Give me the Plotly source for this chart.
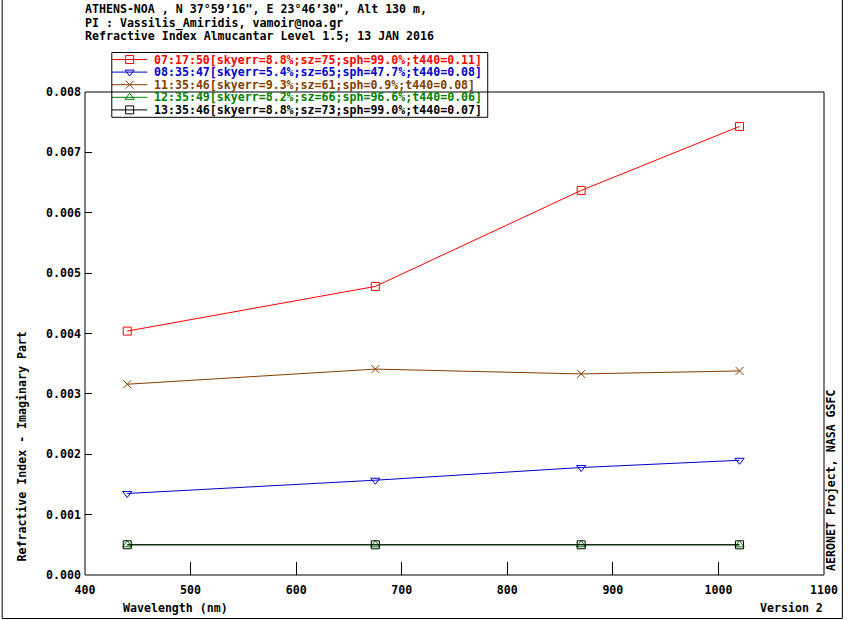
import plotly.graph_objects as go

# AERONET Athens-NOA, imaginary refractive index, 13 JAN 2016
wavelengths = [440, 675, 870, 1020]

series_names = [
    "07:17:50[skyerr=8.8%;sz=75;sph=99.0%;t440=0.11]",
    "08:35:47[skyerr=5.4%;sz=65;sph=47.7%;t440=0.08]",
    "11:35:46[skyerr=9.3%;sz=61;sph=0.9%;t440=0.08]",
    "12:35:49[skyerr=8.2%;sz=66;sph=96.6%;t440=0.06]",
    "13:35:46[skyerr=8.8%;sz=73;sph=99.0%;t440=0.07]",
]
ri_0717 = [0.00404, 0.00478, 0.00637, 0.00743]
ri_0835 = [0.00135, 0.00157, 0.00178, 0.00190]
ri_1135 = [0.00316, 0.00341, 0.00333, 0.00338]
ri_1235 = [0.0005, 0.0005, 0.0005, 0.0005]
ri_1335 = [0.0005, 0.0005, 0.0005, 0.0005]
all_values = [ri_0717, ri_0835, ri_1135, ri_1235, ri_1335]

colors = ["#ff0000", "#0000cc", "#804000", "#008000", "#000000"]
symbols = ["square-open", "triangle-down-open", "x-thin-open", "triangle-up-open", "square-open"]

y_ticks = [0.000, 0.001, 0.002, 0.003, 0.004, 0.005, 0.006, 0.007, 0.008]

W, H = 850, 620
ML, MR, MT, MB = 85, 20, 50, 45
PW = W - ML - MR
PH = H - MT - MB


def px(p):
    return (p - ML) / PW


def py(p):
    return (H - MB - p) / PH


FONT = dict(family="DejaVu Sans Mono", size=11.6, color="black", weight="bold")

fig = go.Figure()

for i, (name, vals) in enumerate(zip(series_names, all_values)):
    # real data
    fig.add_trace(go.Scatter(
        x=wavelengths, y=vals, mode="lines+markers", name=name,
        line=dict(color=colors[i], width=1),
        marker=dict(symbol=symbols[i], size=8, color=colors[i], line=dict(width=1, color=colors[i])),
        showlegend=False, xaxis="x", yaxis="y",
    ))
    # legend sample (row i)
    fig.add_trace(go.Scatter(
        x=[0, 0.5, 1], y=[i, i, i], mode="lines", line=dict(color=colors[i], width=1),
        showlegend=False, xaxis="x2", yaxis="y2", hoverinfo="skip",
    ))
    fig.add_trace(go.Scatter(
        x=[0.5], y=[i], mode="markers",
        marker=dict(symbol=symbols[i], size=8, color=colors[i], line=dict(width=1, color=colors[i])),
        showlegend=False, xaxis="x2", yaxis="y2", hoverinfo="skip", cliponaxis=False,
    ))

annotations = [
    dict(x=px(153), y=i, xref="paper", yref="y2", text=name, showarrow=False,
         xanchor="left", yanchor="middle", font=dict(FONT, color=colors[i]))
    for i, name in enumerate(series_names)
]
header = [
    "ATHENS-NOA , N 37°59’16\", E 23°46’30\", Alt 130 m,",
    "PI : Vassilis_Amiridis, vamoir@noa.gr",
    "Refractive Index Almucantar Level 1.5; 13 JAN 2016",
]
for line, ypix in zip(header, [9, 23, 36]):
    annotations.append(dict(x=px(83), y=py(ypix), xref="paper", yref="paper", text=line,
                            showarrow=False, xanchor="left", yanchor="middle", font=FONT))
annotations += [
    dict(x=px(176), y=py(607.5), xref="paper", yref="paper", text="Wavelength (nm)",
         showarrow=False, xanchor="center", yanchor="middle", font=FONT),
    dict(x=px(831), y=py(608), xref="paper", yref="paper", text="Version 2",
         showarrow=False, xanchor="right", yanchor="middle", font=FONT),
    dict(x=px(21), y=py(447), xref="paper", yref="paper", text="Refractive Index - Imaginary Part",
         showarrow=False, textangle=-90, xanchor="center", yanchor="middle", font=FONT),
    dict(x=px(837), y=py(480), xref="paper", yref="paper", text="AERONET Project, NASA GSFC",
         showarrow=False, textangle=-90, xanchor="center", yanchor="middle", font=FONT),
]

shapes = [
    # plot frame
    dict(type="rect", xref="x domain", yref="y domain", x0=0, x1=1, y0=0, y1=1,
         line=dict(color="black", width=1)),
    # legend box
    dict(type="rect", xref="paper", yref="paper", x0=px(112), x1=px(491), y0=py(117.3), y1=py(52.5),
         line=dict(color="black", width=1), fillcolor="rgba(0,0,0,0)"),
    # outer border
    dict(type="rect", xref="paper", yref="paper", x0=px(1.5), x1=px(848.5), y0=py(618.5), y1=py(-3),
         line=dict(color="black", width=1)),
]

fig.update_layout(
    width=W, height=H, autosize=False,
    margin=dict(l=ML, r=MR, t=MT, b=MB),
    paper_bgcolor="white", plot_bgcolor="white",
    font=FONT,
    xaxis=dict(range=[400, 1100], dtick=100, tick0=400, ticks="inside", ticklen=13, tickcolor="black",
               showgrid=False, zeroline=False, showline=False, tickfont=FONT, ticklabelstandoff=6),
    yaxis=dict(domain=[0, py(92)], range=[0, 0.008], tickvals=y_ticks, tickformat=".3f",
               ticks="inside", ticklen=7, tickcolor="black", showgrid=False, zeroline=False,
               showline=False, tickfont=FONT, ticklabelstandoff=3),
    xaxis2=dict(domain=[px(112), px(148)], range=[0, 1], visible=False, anchor="y2"),
    yaxis2=dict(domain=[py(116.2), py(53.2)], range=[4.5, -0.5], visible=False, anchor="x2"),
    annotations=annotations,
    shapes=shapes,
    showlegend=False,
)

# no page margin, so the 850x620 figure fills the window exactly
fig.write_html("out.html", config={"displayModeBar": False},
               post_script="document.body.style.margin='0';document.body.style.overflow='hidden';")
